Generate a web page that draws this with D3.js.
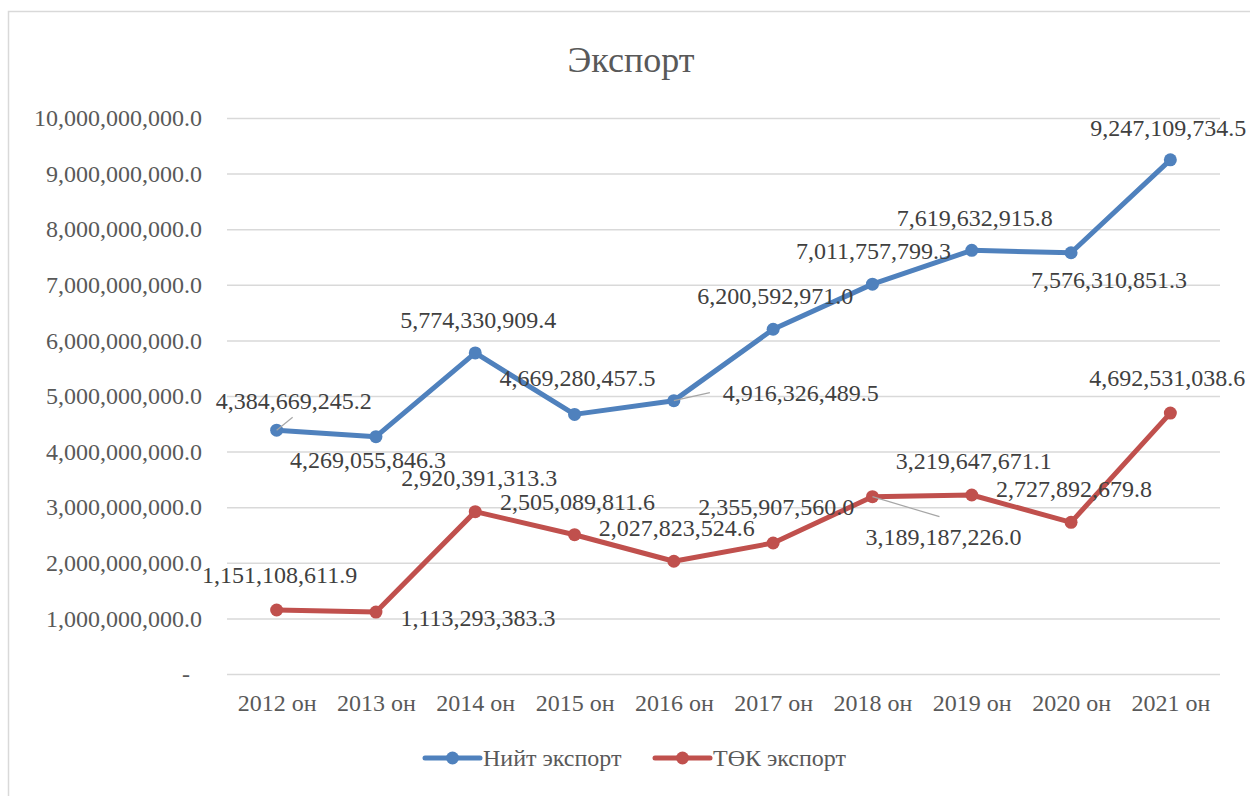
<!DOCTYPE html>
<html>
<head>
<meta charset="utf-8">
<script src="https://cdn.jsdelivr.net/npm/d3@7"></script>
<style>
  body { margin: 0; background: #fff; }
  svg { display: block; }
  svg text { font-family: "Liberation Serif", "Times New Roman", serif !important; }
</style>
</head>
<body>
<div id="root"></div>
<script>
const years = ["2012 он", "2013 он", "2014 он", "2015 он", "2016 он", "2017 он", "2018 он", "2019 он", "2020 он", "2021 он"];
const totalExport = [4384669245.2, 4269055846.3, 5774330909.4, 4669280457.5, 4916326489.5, 6200592971.0, 7011757799.3, 7619632915.8, 7576310851.3, 9247109734.5];
const mineralExport = [1151108611.9, 1113293383.3, 2920391313.3, 2505089811.6, 2027823524.6, 2355907560.0, 3189187226.0, 3219647671.1, 2727892679.8, 4692531038.6];
const yTicks = [0, 1e9, 2e9, 3e9, 4e9, 5e9, 6e9, 7e9, 8e9, 9e9, 1e10];
const seriesNames = ["Нийт экспорт", "ТӨК экспорт"];

// label placement (offset of label centre from its point), leader line end if any
const blueLabelPos = [[17, -30, [16, -13]], [-8, 23], [3, -33], [3, -37], [127, -8, [36, -8]], [2, -34], [1, -34], [3, -33], [38, 27], [-2, -32]];
const redLabelPos = [[3, -35], [102, 5], [4, -34], [3, -33], [3, -34], [3, -36], [71, 40, [67, 20]], [2, -34], [3, -34], [-3, -35]];

const width = 1250, height = 796;
const margin = {top: 118, right: 30, bottom: 122, left: 227};
const colors = ["#4f81bd", "#c0504d"];
const serif = '"Liberation Serif", "Times New Roman", serif';

const svg = d3.select('#root').append('svg').attr('width', width).attr('height', height)
  .attr('font-family', serif);

// chart area border
svg.append('rect').attr('x', 8.5).attr('y', 11.5).attr('width', 1260).attr('height', 800)
  .attr('fill', 'none').attr('stroke', '#d9d9d9').attr('stroke-width', 1.5);

svg.append('text').attr('x', 631).attr('y', 72).attr('text-anchor', 'middle')
  .attr('font-size', 36).attr('fill', '#595959').text('Экспорт');

const x = d3.scalePoint().domain(years).range([margin.left, 1220]).padding(0.5);
const y = d3.scaleLinear().domain([0, 1e10]).range([674, 118]);

// gridlines
svg.append('g').selectAll('line').data(yTicks).enter().append('line')
  .attr('x1', margin.left).attr('x2', 1220)
  .attr('y1', d => y(d) + 0.5).attr('y2', d => y(d) + 0.5)
  .attr('stroke', '#d9d9d9').attr('stroke-width', 1.5);

const fmt = d3.format(',.1f');
const yAxis = d3.axisLeft(y).tickValues(yTicks).tickSize(0).tickPadding(0)
  .tickFormat(d => d === 0 ? '-' : fmt(d));
const gY = svg.append('g').attr('transform', 'translate(202,0)').call(yAxis);
gY.attr('font-family', serif);
gY.select('.domain').remove();
gY.selectAll('text').attr('font-size', 24).attr('fill', '#595959')
  .attr('dx', d => d === 0 ? -12 : 0);

const xAxis = d3.axisBottom(x).tickSize(0).tickPadding(0);
const gX = svg.append('g').attr('transform', 'translate(0,703)').call(xAxis);
gX.attr('font-family', serif);
gX.select('.domain').remove();
gX.selectAll('text').attr('font-size', 24).attr('fill', '#595959').attr('dy', '0.32em');

const line = d3.line().x((d, i) => x(years[i])).y(d => y(d));

[totalExport, mineralExport].forEach((vals, s) => {
  svg.append('path').datum(vals).attr('d', line).attr('fill', 'none')
    .attr('stroke', colors[s]).attr('stroke-width', 5).attr('stroke-linejoin', 'round');
  svg.append('g').selectAll('circle').data(vals).enter().append('circle')
    .attr('cx', (d, i) => x(years[i])).attr('cy', d => y(d)).attr('r', 6.5)
    .attr('fill', colors[s]);
});

// data labels
[[totalExport, blueLabelPos], [mineralExport, redLabelPos]].forEach(([vals, pos]) => {
  const g = svg.append('g');
  vals.forEach((v, i) => {
    const px = x(years[i]), py = y(v);
    const p = pos[i];
    if (p[2]) {
      g.append('line').attr('x1', px).attr('y1', py)
        .attr('x2', px + p[2][0]).attr('y2', py + p[2][1])
        .attr('stroke', '#a6a6a6').attr('stroke-width', 1.2);
    }
    g.append('text').attr('x', px + p[0]).attr('y', py + p[1]).attr('dy', '0.35em')
      .attr('text-anchor', 'middle').attr('font-size', 24).attr('fill', '#404040')
      .text(fmt(v));
  });
});

// legend
const legendX = [425, 655];
seriesNames.forEach((name, s) => {
  const lg = svg.append('g').attr('transform', `translate(${legendX[s]},758)`);
  lg.append('line').attr('x1', 0).attr('x2', 55).attr('stroke', colors[s])
    .attr('stroke-width', 5).attr('stroke-linecap', 'round');
  lg.append('circle').attr('cx', 27.5).attr('r', 6.5).attr('fill', colors[s]);
  lg.append('text').attr('x', 58).attr('dy', '0.35em').attr('font-size', 24)
    .attr('fill', '#595959').text(name);
});
</script>
</body>
</html>
